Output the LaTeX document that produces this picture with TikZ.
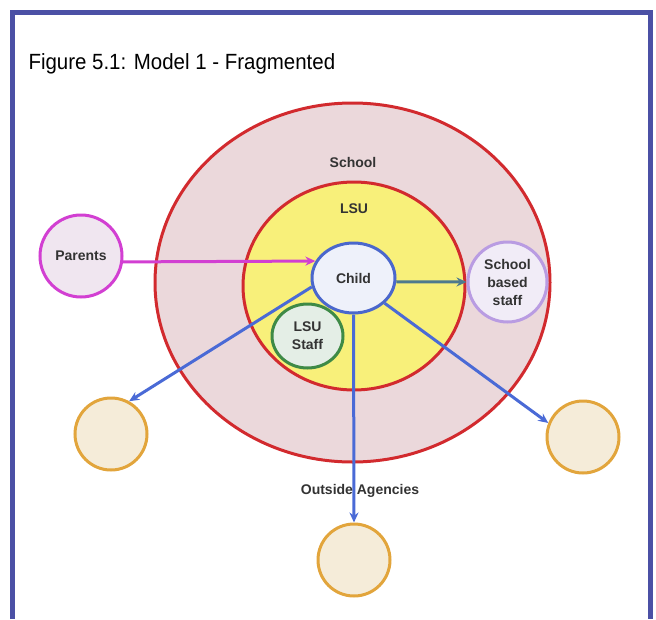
\documentclass[tikz,border=0pt]{standalone}
\usepackage{fontspec}
\setmainfont{Liberation Sans}
\newfontfamily\titlefont[FakeStretch=0.93]{Liberation Sans}
\usepackage{tikz}
\usetikzlibrary{shapes.geometric,arrows.meta}

\definecolor{frameblue}{HTML}{4B50A5}
\definecolor{ringred}{HTML}{D22A2E}
\definecolor{schoolfill}{HTML}{EBD8DB}
\definecolor{lsuyellow}{HTML}{F8F07A}
\definecolor{childblue}{HTML}{4A67CC}
\definecolor{childfill}{HTML}{EEF1FA}
\definecolor{parentpink}{HTML}{D23FD2}
\definecolor{parentfill}{HTML}{F0E6F0}
\definecolor{staffgreen}{HTML}{3E8A46}
\definecolor{stafffill}{HTML}{E4EEE6}
\definecolor{sbslilac}{HTML}{B99CE2}
\definecolor{sbsfill}{HTML}{F1ECF7}
\definecolor{agencyorange}{HTML}{E2A53C}
\definecolor{agencyfill}{HTML}{F5ECD9}
\definecolor{arrowblue}{HTML}{4A6AD6}
\definecolor{sbsarrow}{HTML}{4E7A8E}
\definecolor{labelgray}{HTML}{333333}

\begin{document}
\begin{tikzpicture}[x=1pt, y=-1pt,
		font=\fontsize{14}{18}\selectfont\bfseries,
		ring_style/.style={ellipse,draw=ringred,line width=3pt,inner sep=0pt},
		node_style/.style={ellipse,line width=3pt,inner sep=0pt,align=center,text=labelgray},
		agency_style/.style={circle,draw=agencyorange,fill=agencyfill,line width=3pt,minimum size=72pt},
		label_style/.style={text=labelgray},
		edge_style/.style={draw=arrowblue,line width=3pt,-{Stealth[length=10pt,width=9pt]}}]

		\useasboundingbox (0,0) rectangle (656,619);

		% frame and title
		\draw[frameblue,line width=5pt] (12.5,619) -- (12.5,12.5) -- (650,12.5) -- (650,619);
		\node[anchor=base west,font=\titlefont\fontsize{22}{26}\selectfont] (title) at (25,69) {Figure 5.1: Model 1 - Fragmented};

		% rings
		\node[ring_style,fill=schoolfill,minimum width=395pt,minimum height=359pt] (school) at (352.5,282.5) {};
		\node[ring_style,fill=lsuyellow,minimum width=222pt,minimum height=208pt] (lsu) at (354,286) {};
		\node[label_style] (school_label) at (353,162) {School};
		\node[label_style] (lsu_label) at (354,209) {LSU};

		% people
		\node[node_style,draw=childblue,fill=childfill,minimum width=83pt,minimum height=70pt] (child) at (353.5,278) {Child};
		\node[node_style,draw=parentpink,fill=parentfill,minimum size=82pt] (parents) at (81,256) {Parents};
		\node[node_style,draw=staffgreen,fill=stafffill,minimum width=71pt,minimum height=64pt] (lsu_staff) at (307.5,336) {LSU\\Staff};
		\node[node_style,draw=sbslilac,fill=sbsfill,minimum width=79pt,minimum height=80pt] (sbs) at (507.5,282) {School\\based\\staff};

		% outside agencies
		\node[agency_style] (agency_l) at (111,434) {};
		\node[agency_style] (agency_r) at (583,437) {};
		\node[agency_style] (agency_b) at (354,560) {};

		\draw[edge_style,draw=parentpink] (parents.-8) -- (child.156);
		\draw[edge_style,draw=sbsarrow] (child.-5) -- (sbs.west);
		\draw[edge_style] (child.192) -- (agency_l.61);
		\draw[edge_style] (child.-39) -- (agency_r.158);
		\draw[edge_style] (child.south) -- (agency_b.north);

		\node[label_style] (agency_label) at (360,491) {Outside Agencies};

\end{tikzpicture}
\end{document}
